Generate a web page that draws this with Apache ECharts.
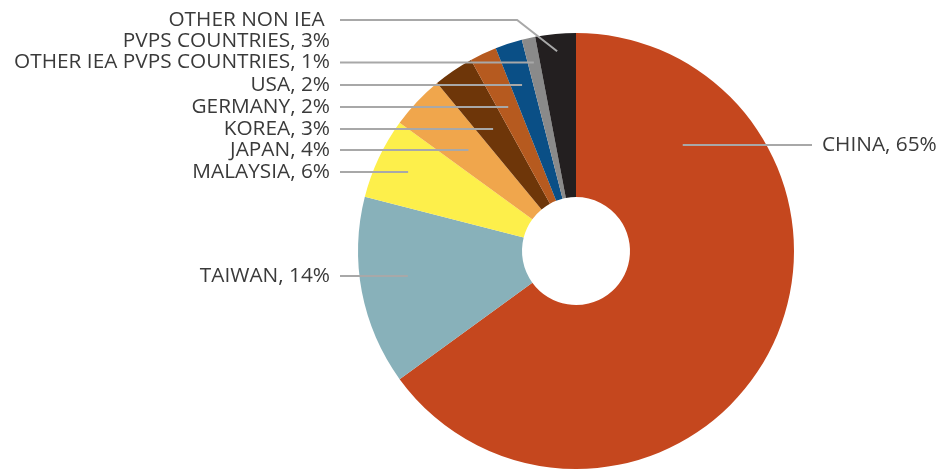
<!DOCTYPE html>
<html><head><meta charset="utf-8">
<script src="https://cdn.jsdelivr.net/npm/echarts@6/dist/echarts.min.js"></script>
<style>html,body{margin:0;padding:0;background:#fff}#chart{width:936px;height:470px}</style>
</head><body><div id="chart"></div>
<script>
// ---- data ----
const categories = ['CHINA', 'TAIWAN', 'MALAYSIA', 'JAPAN', 'KOREA', 'GERMANY', 'USA',
  'OTHER IEA PVPS COUNTRIES', 'OTHER NON IEA \nPVPS COUNTRIES'];
const shares = [65, 14, 6, 4, 3, 2, 2, 1, 3];

// ---- style / layout ----
const sliceColors = ['#C5471E', '#88B1BA', '#FDEF4B', '#F0A64C', '#6E3609', '#B65A1F', '#0A4F86', '#8A8A8A', '#231F20'];
const CX = 576, CY = 251, R_OUT = 218, R_IN = 54;
const LH = 21.5;
const labelSide = ['right', 'left', 'left', 'left', 'left', 'left', 'left', 'left', 'left'];
const labelLineY = [145, 276, 172, 150, 129, 107, 85, 62.5, 20];
const anchorR = [0.69, 0.78, null, null, null, null, null, null, 0.92];
const bendDx = [null, null, null, null, null, null, null, null, 40];
const LEFT_TEXT_X = 330, LEFT_LINE_X = 340, RIGHT_TEXT_X = 822, RIGHT_LINE_X = 812;

const total = shares.reduce((a, b) => a + b, 0);
function midAngleFromShares(i) {
  let cum = 0;
  for (let k = 0; k < i; k++) cum += shares[k];
  const frac = (cum + shares[i] / 2) / total;
  return -Math.PI / 2 + frac * 2 * Math.PI; // screen coords, clockwise from top
}

function layoutLabel(params) {
  const i = params.dataIndex;
  let ang;
  const pts = params.labelLinePoints;
  if (pts && pts.length) {
    ang = Math.atan2(pts[0][1] - CY, pts[0][0] - CX);
  } else {
    ang = midAngleFromShares(i);
  }
  const dx = Math.cos(ang), dy = Math.sin(ang);
  const ly = labelLineY[i];
  const left = labelSide[i] === 'left';
  let anchor, line;
  if (bendDx[i] != null) {
    const r = anchorR[i] * R_OUT;
    anchor = [CX + dx * r, CY + dy * r];
    line = [[LEFT_LINE_X, ly], [anchor[0] - bendDx[i], ly], anchor];
  } else if (anchorR[i] != null) {
    const r = anchorR[i] * R_OUT;
    const ddy = ly - CY;
    const ddx = Math.sqrt(Math.max(0, r * r - ddy * ddy)) * (left ? -1 : 1);
    anchor = [CX + ddx, ly];
    line = left ? [[LEFT_LINE_X, ly], anchor] : [anchor, [RIGHT_LINE_X, ly]];
  } else {
    const t = (ly - CY) / dy;
    anchor = [CX + dx * t, ly];
    line = [[LEFT_LINE_X, ly], anchor];
  }
  return {
    x: left ? LEFT_TEXT_X : RIGHT_TEXT_X,
    y: ly - LH / 2,
    align: left ? 'right' : 'left',
    verticalAlign: 'top',
    labelLinePoints: line
  };
}

const pieData = categories.map((c, i) => ({ name: c, value: shares[i], itemStyle: { color: sliceColors[i] } }));
const base = {
  type: 'pie',
  center: [CX, CY],
  radius: [R_IN, R_OUT],
  startAngle: 90,
  clockwise: true,
  avoidLabelOverlap: false,
  emphasis: { disabled: true },
  silent: true
};

const chart = echarts.init(document.getElementById('chart'), null, { renderer: 'canvas' });
chart.setOption({
  animation: false,
  backgroundColor: '#ffffff',
  series: [
    Object.assign({}, base, {
      z: 2,
      data: pieData,
      itemStyle: { borderWidth: 0 },
      label: { show: false },
      labelLine: { show: false }
    }),
    Object.assign({}, base, {
      z: 5,
      data: categories.map((c, i) => ({ name: c, value: shares[i] })),
      itemStyle: { color: 'rgba(0,0,0,0)', borderWidth: 0 },
      label: {
        show: true,
        position: 'outside',
        formatter: p => p.name + ', ' + p.value + '%',
        fontFamily: 'Open Sans',
        fontSize: 20.8,
        lineHeight: LH,
        color: '#3a3a3a'
      },
      labelLine: {
        show: true,
        showAbove: true,
        smooth: false,
        length: 10,
        length2: 10,
        lineStyle: { color: '#a8a8a8', width: 2 }
      },
      labelLayout: layoutLabel
    })
  ]
});
</script>
</body></html>
